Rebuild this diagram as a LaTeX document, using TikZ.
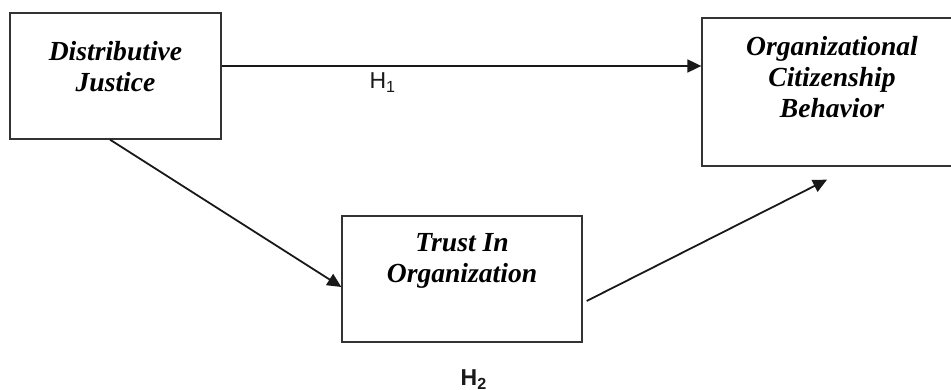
\documentclass[tikz,border=0pt]{standalone}
\usepackage{fontspec}
\setmainfont{Liberation Serif}
\newfontfamily\arialfont{Liberation Sans}
\usetikzlibrary{arrows.meta}
\usetikzlibrary{positioning}

\tikzset{
  box/.style={draw=black!80, line width=0.65pt, inner sep=0pt},
  title/.style={font=\fontsize{13.8}{15.5}\selectfont\bfseries\itshape, align=center, inner sep=0pt, anchor=north},
  arr/.style={-{Triangle[length=7pt,width=6.5pt]}, line width=0.9pt, draw=black!90},
  hyp/.style={font=\fontsize{11.5}{13}\selectfont\arialfont, inner sep=0pt, text=black!90},
  hypbold/.style={hyp, font=\fontsize{11.5}{13}\selectfont\arialfont\bfseries},
}

\begin{document}
\begin{tikzpicture}[x=0.5pt,y=-0.5pt]
  \useasboundingbox (0,0) rectangle (951,390);
  % the three boxes
  \node[box, minimum width=105.5pt, minimum height=63pt] (dj) at (115.5,76) {};
  \node[box, minimum width=130pt, minimum height=74pt] (ocb) at (832,92) {};
  \node[box, minimum width=120pt, minimum height=63pt] (tio) at (462,279) {};
  \node[title] (djt) at ([yshift=-14.5pt]dj.north) {Distributive\\Justice};
  \node[title] (ocbt) at ([yshift=-9.3pt]ocb.north) {Organizational\\Citizenship\\Behavior};
  \node[title] (tiot) at ([yshift=-9pt]tio.north) {Trust In\\Organization};
  % paths
  \coordinate (h1s) at ([yshift=5pt]dj.east);
  \draw[arr] (h1s) -- (h1s -| ocb.west) node[hyp, pos=0.336, below=3pt] (h1) {H\textsubscript{1}};
  \draw[arr] ([xshift=-2.75pt]dj.south) -- ([yshift=-4pt]tio.west);
  \draw[arr] ([xshift=2pt,yshift=-11pt]tio.east) -- ([xshift=-2.5pt,yshift=-6.5pt]ocb.south);
  \node[hypbold, anchor=north] (h2) at ([xshift=6pt,yshift=-13.5pt]tio.south) {H\textsubscript{2}};
\end{tikzpicture}
\end{document}
